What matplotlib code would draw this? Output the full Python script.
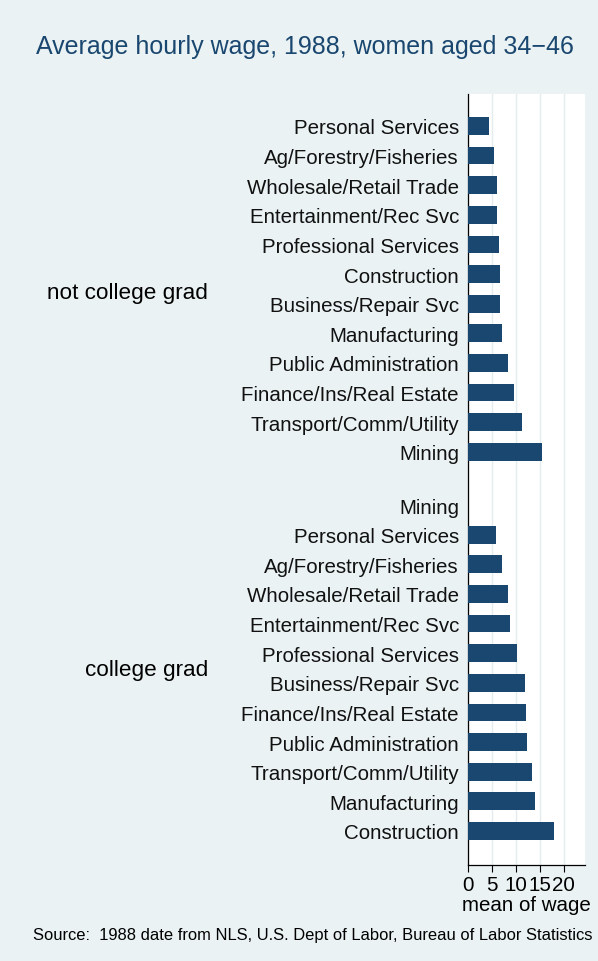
import matplotlib.pyplot as plt
import matplotlib.transforms as mtransforms
import numpy as np

plt.rcParams["font.family"] = ["Liberation Sans", "DejaVu Sans"]

BG = "#eaf2f3"
BAR = "#1a476f"

groups = ["not college grad", "college grad"]

not_grad_inds = [
    "Personal Services", "Ag/Forestry/Fisheries", "Wholesale/Retail Trade",
    "Entertainment/Rec Svc", "Professional Services", "Construction",
    "Business/Repair Svc", "Manufacturing", "Public Administration",
    "Finance/Ins/Real Estate", "Transport/Comm/Utility", "Mining",
]
not_grad_wage = [4.4, 5.4, 6.0, 6.1, 6.4, 6.6, 6.6, 7.0, 8.3, 9.6, 11.3, 15.5]

grad_inds = [
    "Mining", "Personal Services", "Ag/Forestry/Fisheries", "Wholesale/Retail Trade",
    "Entertainment/Rec Svc", "Professional Services", "Business/Repair Svc",
    "Finance/Ins/Real Estate", "Public Administration", "Transport/Comm/Utility",
    "Manufacturing", "Construction",
]
grad_wage = [0.0, 5.8, 7.1, 8.4, 8.7, 10.2, 11.9, 12.0, 12.2, 13.4, 13.9, 17.9]

xticks = [0, 5, 10, 15, 20]
FS = 14.8

fig = plt.figure(figsize=(5.98, 9.62), dpi=100, facecolor=BG)
ax = fig.add_axes([468 / 598, 1 - 866 / 962, (585 - 468) / 598, (866 - 95) / 962])
ax.set_facecolor("white")

gap = 1.8
pos_a = np.arange(len(not_grad_inds))
pos_b = np.arange(len(grad_inds)) + len(not_grad_inds) - 1 + gap
ax.barh(pos_a, not_grad_wage, height=0.6, color=BAR, linewidth=0, zorder=3)
ax.barh(pos_b, grad_wage, height=0.6, color=BAR, linewidth=0, zorder=3)

ax.set_ylim(pos_b[-1] + 1.15, pos_a[0] - 1.08)
ax.set_yticks(list(pos_a) + list(pos_b))
ax.set_yticklabels(not_grad_inds + grad_inds, fontsize=FS, color="#111111")
ax.tick_params(axis="y", length=0, pad=6.5)

ax.set_xlim(0, 24.4)
ax.set_xticks(xticks)
ax.set_xticklabels([str(t) for t in xticks], fontsize=FS)
ax.tick_params(axis="x", length=5, width=0.8, pad=2)
ax.xaxis.grid(True, color="#e3ecef", linewidth=1.0, zorder=0)
ax.set_xlabel("mean of wage", fontsize=FS, labelpad=1)

for s in ["top", "right"]:
    ax.spines[s].set_visible(False)
for s in ["left", "bottom"]:
    ax.spines[s].set_linewidth(0.9)

# group labels, right aligned well left of the category labels
trans = mtransforms.blended_transform_factory(fig.transFigure, ax.transData)
fig.text(208 / 598, (pos_a[0] + pos_a[-1]) / 2 + 0.12, groups[0], transform=trans,
         ha="right", va="center", fontsize=16.2)
fig.text(208 / 598, (pos_b[0] + pos_b[-1]) / 2 + 0.05, groups[1], transform=trans,
         ha="right", va="center", fontsize=16.2)

fig.text(305 / 598, 1 - 47 / 962, "Average hourly wage, 1988, women aged 34\u221246",
         ha="center", va="center", fontsize=18, color=BAR)
fig.text(33 / 598, 1 - 936 / 962,
         "Source:  1988 date from NLS, U.S. Dept of Labor, Bureau of Labor Statistics",
         ha="left", va="center", fontsize=11.9)

fig.savefig("out.png", dpi=100, facecolor=BG)
